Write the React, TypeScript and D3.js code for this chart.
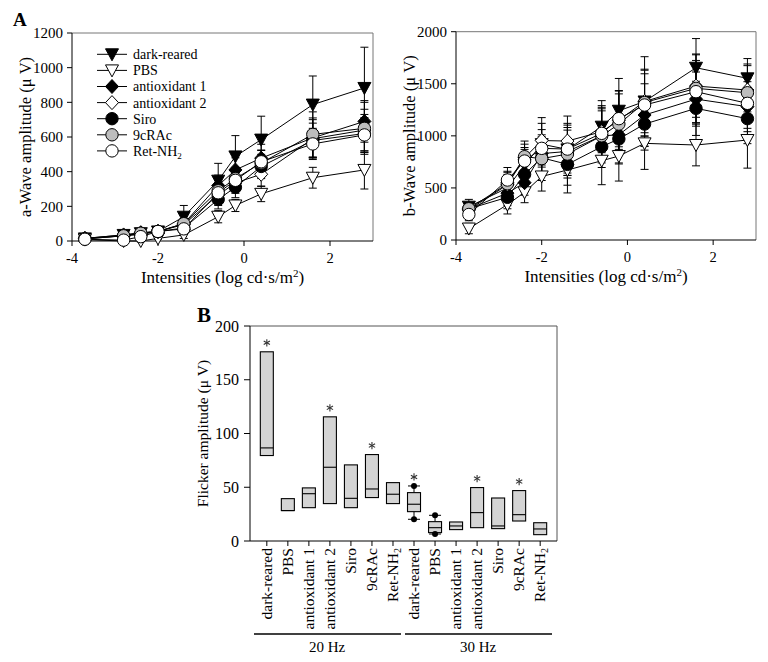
import React from "react";
import * as d3 from "d3";

// ---------- Panel A data ----------
const intensities = [-3.7, -2.8, -2.4, -2.0, -1.4, -0.6, -0.2, 0.4, 1.6, 2.8];
const seriesNames = ["dark-reared", "PBS", "antioxidant 1", "antioxidant 2", "Siro", "9cRAc", "Ret-NH2"];

const aDark = [15, 35, 45, 55, 140, 348, 488, 585, 787, 883];
const aPBS = [8, 0, 0, 15, 35, 140, 205, 272, 365, 410];
const aAnti1 = [15, 35, 48, 55, 100, 320, 410, 478, 595, 690];
const aAnti2 = [15, 30, 40, 55, 95, 265, 335, 385, 590, 640];
const aSiro = [12, 30, 40, 55, 75, 240, 310, 430, 580, 620];
const a9c = [12, 30, 45, 55, 100, 290, 360, 450, 615, 650];
const aRet = [10, 5, 25, 55, 70, 278, 350, 457, 560, 612];

const aDarkErr = [5, 8, 8, 8, 65, 100, 120, 135, 165, 235];
const aPBSErr = [4, 5, 5, 5, 20, 35, 35, 45, 60, 110];
const aAnti1Err = [5, 8, 8, 8, 30, 60, 70, 80, 115, 120];
const aAnti2Err = [5, 8, 8, 8, 30, 60, 60, 70, 110, 120];
const aSiroErr = [5, 8, 8, 8, 30, 55, 60, 70, 100, 110];
const a9cErr = [5, 8, 8, 8, 30, 60, 65, 75, 130, 150];
const aRetErr = [5, 8, 8, 8, 30, 50, 55, 65, 90, 100];

const bDark = [320, 500, 720, 920, 870, 1088, 1241, 1330, 1654, 1552];
const bPBS = [110, 340, 458, 610, 672, 761, 806, 928, 912, 960];
const bAnti1 = [300, 450, 550, 830, 850, 1000, 1010, 1200, 1353, 1280];
const bAnti2 = [290, 530, 790, 955, 950, 1040, 1150, 1330, 1478, 1440];
const bSiro = [300, 410, 630, 790, 726, 896, 970, 1113, 1264, 1165];
const b9c = [300, 540, 800, 781, 825, 1000, 1113, 1320, 1456, 1414];
const bRet = [245, 576, 758, 880, 873, 1024, 1165, 1296, 1424, 1312];

const bDarkErr = [70, 130, 150, 200, 250, 250, 310, 430, 280, 190];
const bPBSErr = [50, 90, 100, 140, 220, 230, 240, 250, 200, 270];
const bAnti1Err = [60, 120, 120, 180, 230, 240, 270, 300, 260, 240];
const bAnti2Err = [60, 120, 130, 220, 240, 250, 280, 300, 300, 250];
const bSiroErr = [60, 110, 120, 170, 200, 200, 240, 250, 260, 240];
const b9cErr = [60, 120, 150, 210, 230, 260, 290, 320, 330, 260];
const bRetErr = [60, 120, 130, 180, 230, 250, 270, 300, 300, 240];

const aTicksX = [-4, -2, 0, 2];
const aTicksY = [0, 200, 400, 600, 800, 1000, 1200];
const bTicksY = [0, 500, 1000, 1500, 2000];

// ---------- Panel B data ----------
const flickerGroups = ["dark-reared", "PBS", "antioxidant 1", "antioxidant 2", "Siro", "9cRAc", "Ret-NH2",
  "dark-reared", "PBS", "antioxidant 1", "antioxidant 2", "Siro", "9cRAc", "Ret-NH2"];
const boxLow = [79.5, 28.3, 31, 34.8, 31, 40.4, 34.8, 27.3, 7.8, 10.6, 12.4, 11.5, 18.6, 5.9];
const boxMedian = [86.6, 28.3, 44, 68.6, 39.7, 48.4, 43.5, 34.2, 12.4, 14, 26.4, 14, 24.5, 11.2];
const boxHigh = [176, 39.4, 49.4, 115.5, 70.8, 80.4, 54.3, 45, 18, 17.7, 49.7, 40, 46.9, 17];
const whiskerLow = [null, null, null, null, null, null, null, 20.2, 6.5, null, null, null, null, null];
const whiskerHigh = [null, null, null, null, null, null, null, 51.2, 23.9, null, null, null, null, null];
const significant = [true, false, false, true, false, true, false, true, false, false, true, false, true, false];
const frequencyLabels = ["20 Hz", "30 Hz"];
const flickerTicksY = [0, 50, 100, 150, 200];

const FONT = '"Liberation Serif", "Times New Roman", serif';

const styles = [
  { shape: "tri", fill: "#000" },
  { shape: "tri", fill: "#fff" },
  { shape: "diamond", fill: "#000" },
  { shape: "diamond", fill: "#fff" },
  { shape: "circle", fill: "#000" },
  { shape: "circle", fill: "#bdbdbd" },
  { shape: "circle", fill: "#fff" },
];

function Marker({ shape, fill, x, y }: { shape: string; fill: string; x: number; y: number }) {
  if (shape === "tri") {
    return <path d={`M${x - 6.5},${y - 5.5}L${x + 6.5},${y - 5.5}L${x},${y + 6.5}Z`} fill={fill} stroke="#000" strokeWidth={1} />;
  }
  if (shape === "diamond") {
    return <path d={`M${x},${y - 7}L${x + 6.5},${y}L${x},${y + 7}L${x - 6.5},${y}Z`} fill={fill} stroke="#000" strokeWidth={1} />;
  }
  return <circle cx={x} cy={y} r={6.2} fill={fill} stroke="#000" strokeWidth={1} />;
}

function Asterisk({ x, y }: { x: number; y: number }) {
  const r = 3.6;
  const arms = [90, 30, -30];
  return (
    <g stroke="#333" strokeWidth={1.1}>
      {arms.map((a) => {
        const rad = (a * Math.PI) / 180;
        const dx = r * Math.cos(rad);
        const dy = r * Math.sin(rad);
        return <line key={a} x1={x - dx} y1={y - dy} x2={x + dx} y2={y + dy} />;
      })}
    </g>
  );
}

function RetLabel({ size }: { size: number }) {
  return (
    <>
      Ret-NH<tspan fontSize={size * 0.65} dy={size * 0.2}>2</tspan>
    </>
  );
}

function LinePanel({ values, errs, x, y, ticksY, yLabel, showLegend }: any) {
  const [x0, x1] = x.range();
  const [y0, y1] = y.range();
  const line = d3.line<number>().x((_, i) => x(intensities[i])).y((v) => y(v));
  return (
    <g>
      <line x1={x0} x2={x1} y1={y1} y2={y1} stroke="#777" strokeWidth={1} />
      <line x1={x1} x2={x1} y1={y1} y2={y0} stroke="#777" strokeWidth={1} />
      <line x1={x0} x2={x0} y1={y1} y2={y0} stroke="#000" strokeWidth={1} />
      <line x1={x0} x2={x1} y1={y0} y2={y0} stroke="#000" strokeWidth={1} />
      {ticksY.map((t: number) => (
        <g key={"y" + t}>
          <line x1={x0 - 5} x2={x0} y1={y(t)} y2={y(t)} stroke="#000" />
          <text x={x0 - 9} y={y(t)} dy="0.35em" textAnchor="end" fontSize={15} fontFamily={FONT}>{t}</text>
        </g>
      ))}
      {aTicksX.map((t) => (
        <g key={"x" + t}>
          <line x1={x(t)} x2={x(t)} y1={y0} y2={y0 + 5} stroke="#000" />
          <text x={x(t)} y={y0 + 22} textAnchor="middle" fontSize={14.5} fontFamily={FONT}>{t}</text>
        </g>
      ))}
      <text x={(x0 + x1) / 2} y={y0 + 42} textAnchor="middle" fontSize={17} fontFamily={FONT}>
        Intensities (log cd·s/m<tspan fontSize={11} dy={-6}>2</tspan><tspan dy={6}>)</tspan>
      </text>
      <text transform={`translate(${x0 - 47},${(y0 + y1) / 2}) rotate(-90)`} textAnchor="middle" dy="0.35em" fontSize={16.5} fontFamily={FONT}>
        {yLabel}
      </text>
      {values.map((vals: number[], s: number) =>
        vals.map((v, i) => {
          const cx = x(intensities[i]);
          const e = errs[s][i];
          return (
            <g key={`e${s}-${i}`} stroke="#000" strokeWidth={1}>
              <line x1={cx} x2={cx} y1={y(v - e)} y2={y(v + e)} />
              <line x1={cx - 4} x2={cx + 4} y1={y(v + e)} y2={y(v + e)} />
              <line x1={cx - 4} x2={cx + 4} y1={y(v - e)} y2={y(v - e)} />
            </g>
          );
        })
      )}
      {values.map((vals: number[], s: number) => (
        <path key={"l" + s} d={line(vals) || ""} fill="none" stroke="#000" strokeWidth={1} />
      ))}
      {values.map((vals: number[], s: number) =>
        vals.map((v, i) => <Marker key={`m${s}-${i}`} shape={styles[s].shape} fill={styles[s].fill} x={x(intensities[i])} y={y(v)} />)
      )}
      {showLegend &&
        seriesNames.map((n, i) => {
          const ly = 54.3 + i * 16.1;
          return (
            <g key={"lg" + i}>
              <line x1={97} x2={127} y1={ly} y2={ly} stroke="#000" />
              <Marker shape={styles[i].shape} fill={styles[i].fill} x={112} y={ly} />
              <text x={133} y={ly} dy="0.35em" fontSize={14} fontFamily={FONT}>
                {n === "Ret-NH2" ? <RetLabel size={14} /> : n}
              </text>
            </g>
          );
        })}
    </g>
  );
}

export default function App() {
  const xA = d3.scaleLinear().domain([-4, 3]).range([72, 373]);
  const yA = d3.scaleLinear().domain([0, 1200]).range([241, 33]);
  const xB = d3.scaleLinear().domain([-4, 3]).range([456, 756]);
  const yB = d3.scaleLinear().domain([0, 2000]).range([240, 31.7]);
  const xC = d3.scaleLinear().domain([0.2, 14.8]).range([250, 557]);
  const yC = d3.scaleLinear().domain([0, 200]).range([541, 326]);

  const aValues = [aDark, aPBS, aAnti1, aAnti2, aSiro, a9c, aRet];
  const aErrs = [aDarkErr, aPBSErr, aAnti1Err, aAnti2Err, aSiroErr, a9cErr, aRetErr];
  const bValues = [bDark, bPBS, bAnti1, bAnti2, bSiro, b9c, bRet];
  const bErrs = [bDarkErr, bPBSErr, bAnti1Err, bAnti2Err, bSiroErr, b9cErr, bRetErr];

  const bw = 13;
  const [cx0, cx1] = xC.range();
  const [cy0, cy1] = yC.range();

  return (
    <svg width={768} height={662} style={{ position: "absolute", left: 0, top: 0, background: "#fff" }} fontFamily={FONT}>
      <rect width={768} height={662} fill="#fff" />
      <text x={13} y={26} fontSize={19} fontWeight="bold" fontFamily={FONT}>A</text>
      <LinePanel values={aValues} errs={aErrs} x={xA} y={yA} ticksY={aTicksY} yLabel="a-Wave amplitude (μ V)" showLegend />
      <LinePanel values={bValues} errs={bErrs} x={xB} y={yB} ticksY={bTicksY} yLabel="b-Wave amplitude (μ V)" showLegend={false} />

      <text x={197} y={322} fontSize={21} fontWeight="bold" fontFamily={FONT}>B</text>
      <line x1={cx0} x2={cx1} y1={cy1} y2={cy1} stroke="#555" />
      <line x1={cx1} x2={cx1} y1={cy1} y2={cy0} stroke="#555" />
      <line x1={cx0} x2={cx0} y1={cy1} y2={cy0} stroke="#000" />
      <line x1={cx0} x2={cx1} y1={cy0} y2={cy0} stroke="#000" />
      {flickerTicksY.map((t) => (
        <g key={"fy" + t}>
          <line x1={cx0 - 6} x2={cx0} y1={yC(t)} y2={yC(t)} stroke="#000" />
          <text x={cx0 - 11} y={yC(t)} dy="0.35em" textAnchor="end" fontSize={16} fontFamily={FONT}>{t}</text>
        </g>
      ))}
      <text transform={`translate(203,${(cy0 + cy1) / 2}) rotate(-90)`} textAnchor="middle" dy="0.35em" fontSize={15.5} fontFamily={FONT}>
        Flicker amplitude (μ V)
      </text>
      {flickerGroups.map((g, i) => {
        const cx = xC(i + 1);
        const wl = whiskerLow[i];
        const wh = whiskerHigh[i];
        const topY = wh != null ? yC(wh) : yC(boxHigh[i]);
        return (
          <g key={"b" + i}>
            <line x1={cx} x2={cx} y1={cy0} y2={cy0 + 5} stroke="#000" />
            {wh != null && (
              <g stroke="#000">
                <line x1={cx} x2={cx} y1={yC(boxHigh[i])} y2={yC(wh)} />
                <line x1={cx - 6} x2={cx + 6} y1={yC(wh)} y2={yC(wh)} />
              </g>
            )}
            {wl != null && (
              <g stroke="#000">
                <line x1={cx} x2={cx} y1={yC(boxLow[i])} y2={yC(wl)} />
                <line x1={cx - 6} x2={cx + 6} y1={yC(wl)} y2={yC(wl)} />
              </g>
            )}
            <rect x={cx - bw / 2} y={yC(boxHigh[i])} width={bw} height={yC(boxLow[i]) - yC(boxHigh[i])} fill="#d4d4d4" stroke="#000" strokeWidth={1.1} />
            <line x1={cx - bw / 2} x2={cx + bw / 2} y1={yC(boxMedian[i])} y2={yC(boxMedian[i])} stroke="#000" strokeWidth={1.1} />
            {wh != null && <circle cx={cx} cy={yC(wh)} r={3} fill="#000" />}
            {wl != null && <circle cx={cx} cy={yC(wl)} r={3} fill="#000" />}
            {significant[i] && <Asterisk x={cx} y={topY - 9} />}
            <text transform={`translate(${cx},${cy0 + 7}) rotate(-90)`} textAnchor="end" dy="0.33em" fontSize={15.5} fontFamily={FONT}>
              {g === "Ret-NH2" ? <RetLabel size={15.5} /> : g}
            </text>
          </g>
        );
      })}
      <line x1={254} x2={401} y1={634} y2={634} stroke="#000" strokeWidth={1.3} />
      <line x1={405} x2={552} y1={634} y2={634} stroke="#000" strokeWidth={1.3} />
      <text x={327} y={652} textAnchor="middle" fontSize={15} fontFamily={FONT}>{frequencyLabels[0]}</text>
      <text x={478} y={652} textAnchor="middle" fontSize={15} fontFamily={FONT}>{frequencyLabels[1]}</text>
    </svg>
  );
}
